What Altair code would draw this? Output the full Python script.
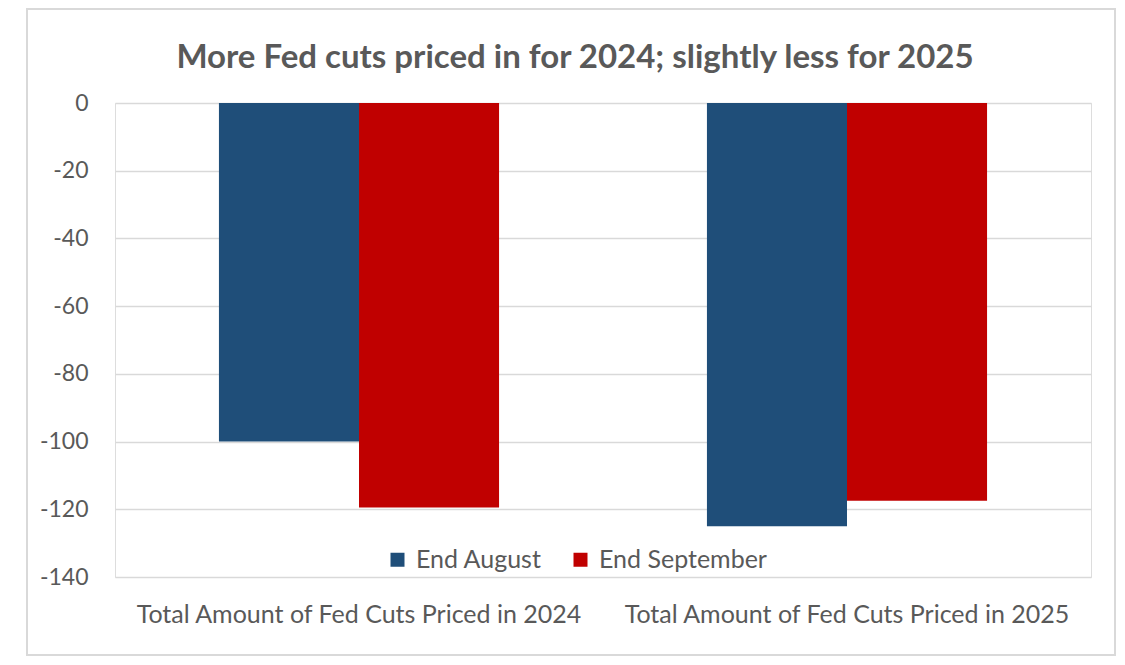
import altair as alt
import pandas as pd

categories = ["Total Amount of Fed Cuts Priced in 2024", "Total Amount of Fed Cuts Priced in 2025"]
series = ["End August", "End September"]
end_august = [-100, -125]
end_september = [-119.5, -117.5]
colors = ["#1F4E79", "#C00000"]
title_text = "More Fed cuts priced in for 2024; slightly less for 2025"

rows = []
for i, c in enumerate(categories):
    rows.append({"category": c, "series": series[0], "value": end_august[i]})
    rows.append({"category": c, "series": series[1], "value": end_september[i]})
df = pd.DataFrame(rows)

FONT = "Lato"
GRAY = "#595959"

bars = alt.Chart(df).mark_bar().encode(
    x=alt.X("category:N", sort=categories, title=None,
            scale=alt.Scale(paddingInner=0.426, paddingOuter=0.213),
            axis=alt.Axis(labelAngle=0, ticks=False, domain=False, labelPadding=25,
                          labelLimit=600, labelFontSize=25, labelColor=GRAY, labelFont=FONT,
                          grid=False)),
    xOffset=alt.XOffset("series:N", sort=series, scale=alt.Scale(paddingInner=0, paddingOuter=0)),
    y=alt.Y("value:Q", title=None,
            scale=alt.Scale(domain=[-140, 0], nice=False),
            axis=alt.Axis(values=list(range(-140, 1, 20)), ticks=False, domain=False,
                          labelExpr="toString(datum.value)",
                          labelPadding=27, labelFontSize=23, labelColor=GRAY, labelFont=FONT,
                          gridColor="#D9D9D9", gridWidth=1.5)),
    color=alt.Color("series:N", sort=series,
                    scale=alt.Scale(domain=series, range=colors),
                    legend=alt.Legend(title=None, orient="none", direction="horizontal",
                                      legendX=270, legendY=444, symbolType="square",
                                      symbolSize=196, symbolStrokeWidth=0, labelLimit=400,
                                      labelFontSize=25, labelColor=GRAY, labelFont=FONT,
                                      columnPadding=26, labelOffset=6)),
)

border = alt.Chart(pd.DataFrame({"a": [0]})).mark_rect(
    fill=None, stroke="#D9D9D9", strokeWidth=2
).encode(x=alt.value(-88), x2=alt.value(1000), y=alt.value(-94), y2=alt.value(552))

chart = alt.layer(border, bars).properties(
    width=976, height=474,
    title=alt.Title(title_text, fontSize=33, font=FONT, fontWeight="bold", color=GRAY,
                    anchor="middle", dx=-28, offset=-67),
    padding={"left": 107, "top": 95, "right": 25, "bottom": 79},
    autosize=alt.AutoSizeParams(type="none"),
).configure_view(stroke=None).configure(background="white")

chart.save("out.html", embed_options={"renderer": "svg", "actions": False})
